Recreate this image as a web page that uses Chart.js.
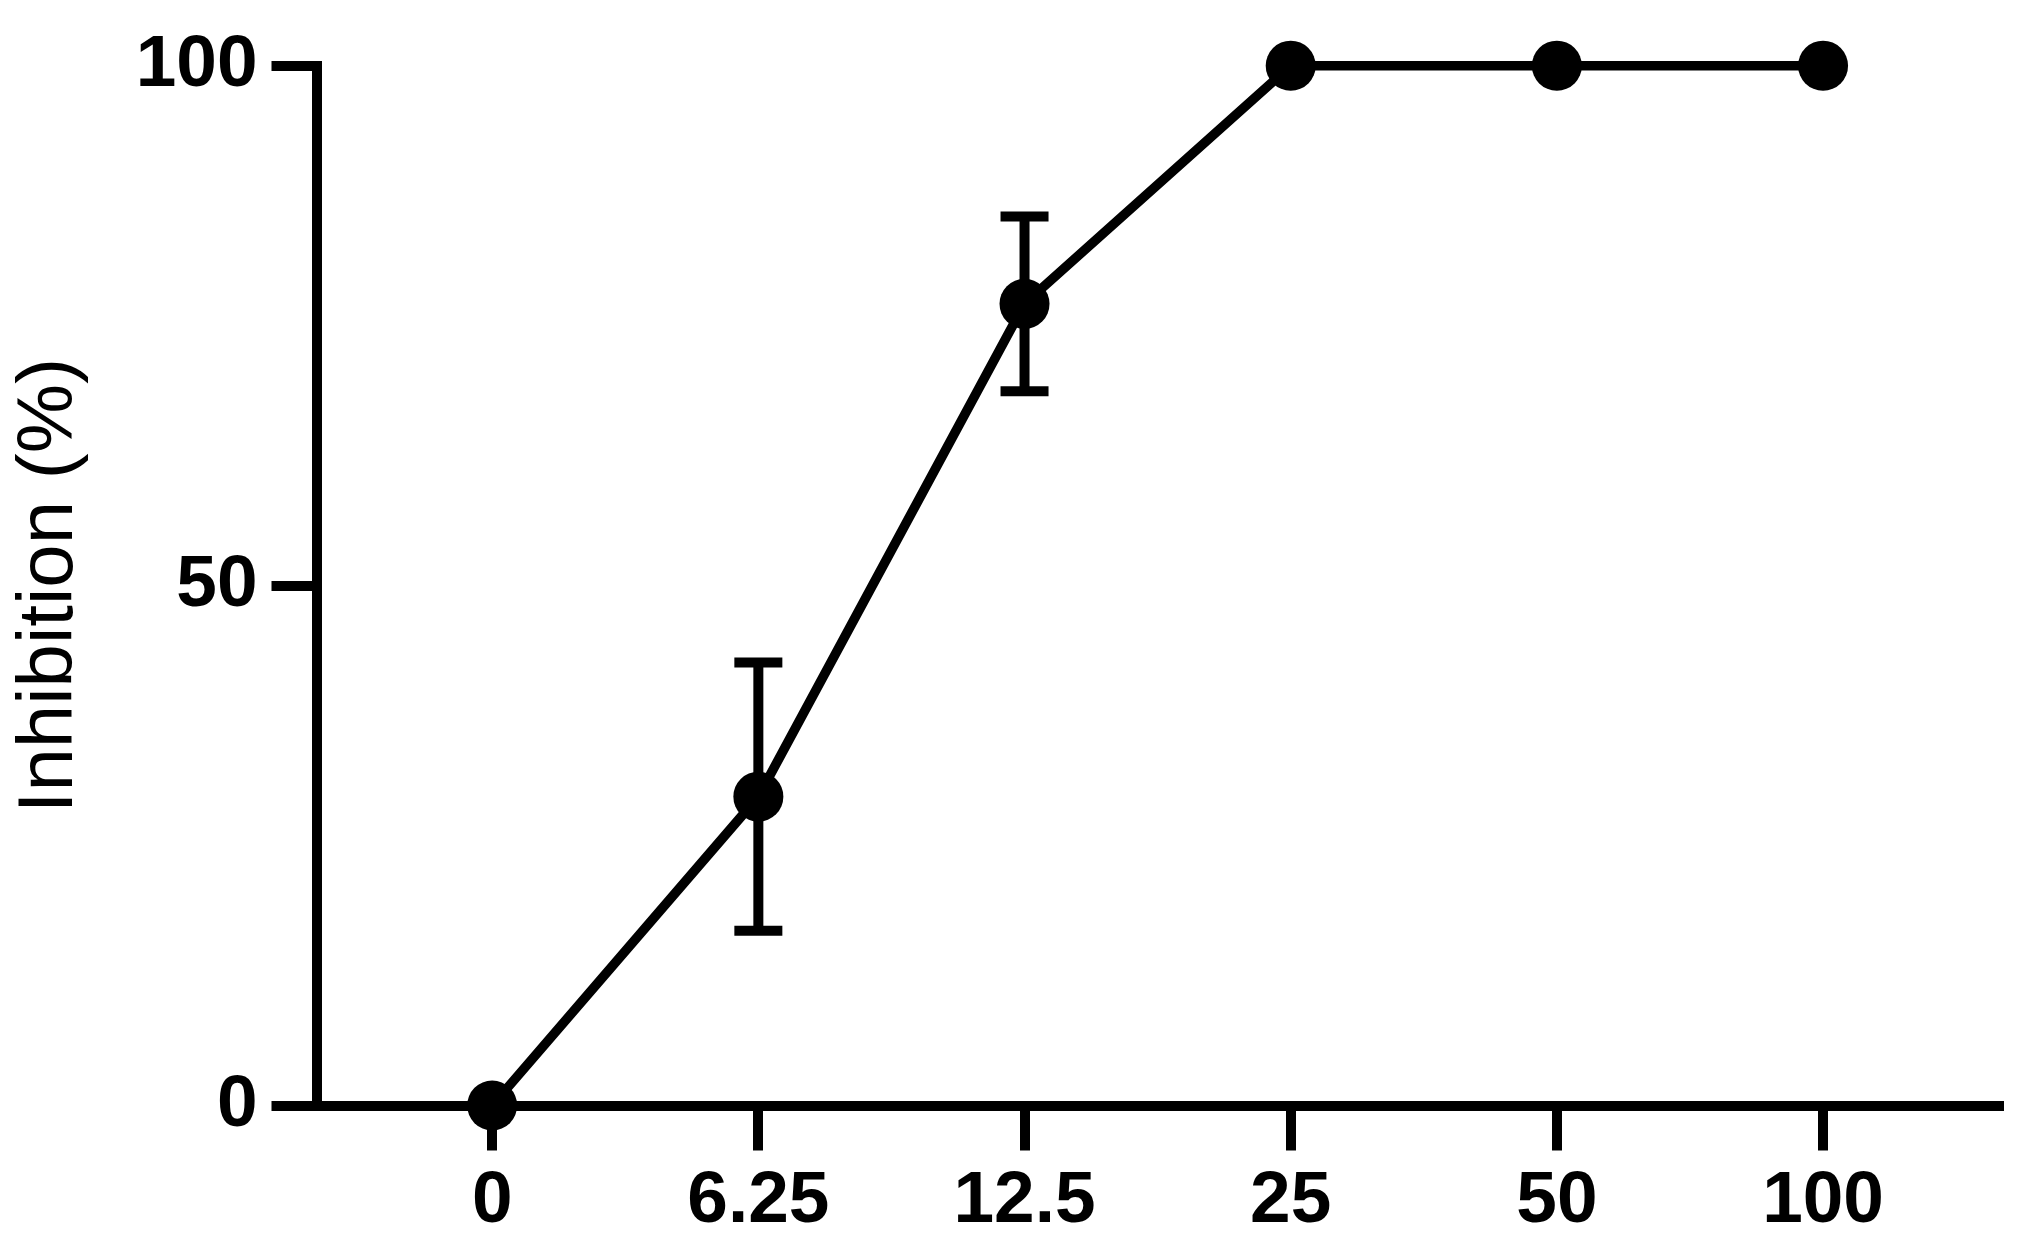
<!DOCTYPE html>
<html>
<head>
<meta charset="utf-8">
<script src="https://cdn.jsdelivr.net/npm/chart.js@4.4.1/dist/chart.umd.min.js"></script>
<style>
  body { margin: 0; background: #fff; }
  canvas { display: block; }
</style>
</head>
<body>
<canvas id="inhibitionChart" width="2024" height="1249"></canvas>
<script>
// concentrations on the x axis
const concentrations = ['0', '6.25', '12.5', '25', '50', '100']
// mean inhibition (%) and its error (+/-)
const inhibition = [0, 29.7, 77.1, 100, 100, 100]
const inhibitionErr = [0, 12.9, 8.4, 0, 0, 0]
const yTicks = [0, 50, 100]

const points = concentrations.map((c, i) => ({ x: i, y: inhibition[i] }))

// error bars drawn through the chart's own scales
const errorBars = {
  id: 'errorBars',
  afterDatasetsDraw(chart) {
    const ctx = chart.ctx
    const xs = chart.scales.x
    const ys = chart.scales.y
    ctx.save()
    ctx.strokeStyle = '#000'
    ctx.lineWidth = 10
    inhibitionErr.forEach((err, i) => {
      if (!err) return
      const px = xs.getPixelForValue(i)
      const top = ys.getPixelForValue(inhibition[i] + err)
      const bot = ys.getPixelForValue(inhibition[i] - err)
      ctx.beginPath()
      ctx.moveTo(px, top)
      ctx.lineTo(px, bot)
      ctx.moveTo(px - 24, top)
      ctx.lineTo(px + 24, top)
      ctx.moveTo(px - 24, bot)
      ctx.lineTo(px + 24, bot)
      ctx.stroke()
    })
    ctx.restore()
  }
}

const ctx = document.getElementById('inhibitionChart')

new Chart(ctx, {
  type: 'line',
  data: {
    datasets: [{
      data: points,
      borderColor: '#000',
      backgroundColor: '#000',
      borderWidth: 9.5,
      pointRadius: 25,
      pointBorderWidth: 0,
      pointBackgroundColor: '#000',
      tension: 0,
      clip: false
    }]
  },
  options: {
    responsive: false,
    devicePixelRatio: 1,
    animation: false,
    layout: { padding: { top: 65.7, right: 23, bottom: 0, left: 0 } },
    plugins: {
      legend: { display: false },
      tooltip: { enabled: false }
    },
    scales: {
      x: {
        type: 'linear',
        min: -0.66,
        max: 5.661,
        afterBuildTicks: (scale) => {
          scale.ticks = concentrations.map((c, i) => ({ value: i }))
        },
        afterFit: (scale) => { scale.height = 143.5 },
        border: { display: true, color: '#000', width: 10 },
        grid: {
          drawOnChartArea: false,
          drawTicks: true,
          tickLength: 45,
          lineWidth: 10,
          color: '#000'
        },
        ticks: {
          autoSkip: false,
          maxRotation: 0,
          padding: 8,
          color: '#000',
          font: { family: 'Liberation Sans', size: 73, weight: 'bold' },
          callback: (v) => concentrations[v]
        }
      },
      y: {
        min: 0,
        max: 100,
        afterBuildTicks: (scale) => {
          scale.ticks = yTicks.map(v => ({ value: v }))
        },
        afterFit: (scale) => { scale.width = 316.5 },
        border: { display: true, color: '#000', width: 10 },
        grid: {
          drawOnChartArea: false,
          drawTicks: true,
          tickLength: 45,
          lineWidth: 10,
          color: '#000'
        },
        ticks: {
          padding: 14,
          color: '#000',
          font: { family: 'Liberation Sans', size: 73, weight: 'bold' }
        },
        title: {
          display: true,
          text: 'Inhibition (%)',
          color: '#000',
          padding: 4,
          font: { family: 'Liberation Sans', size: 78 }
        }
      }
    }
  },
  plugins: [errorBars]
})
</script>
</body>
</html>
